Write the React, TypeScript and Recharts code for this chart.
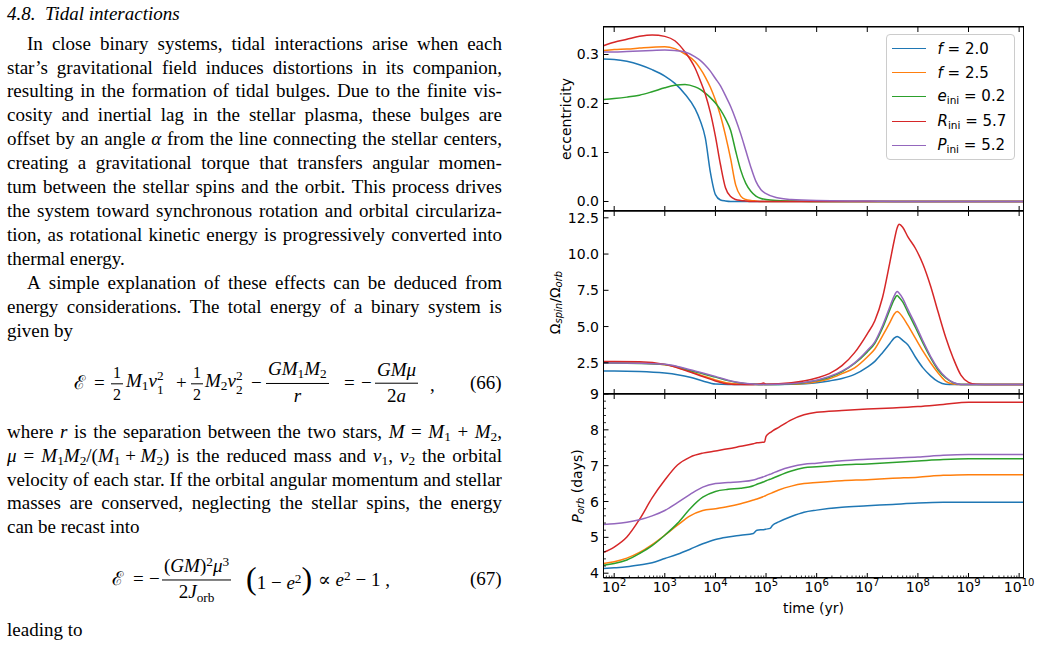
import React from "react";
import { LineChart, Line, XAxis, YAxis, ReferenceArea } from "recharts";

// ---------- values ----------

// top panel: eccentricity
const eccTime = [6.15e1, 1e2, 1.78e2, 3.16e2, 5.62e2, 1e3, 1.58e3, 2.51e3, 3.98e3, 5.01e3, 6.31e3, 7.94e3, 1e4, 1.26e4, 1.58e4, 2.0e4, 2.51e4, 3.16e4, 3.98e4, 5.01e4, 6.31e4, 7.94e4, 1e5, 1.58e5, 3.16e5, 1e6, 1e7, 1e8, 1e9, 1.22e10];
const eccF20 = [0.291, 0.29, 0.286, 0.279, 0.269, 0.256, 0.241, 0.219, 0.189, 0.165, 0.13, 0.06, 0.014, 0.003, 0.001, 0, 0, 0, 0, 0, 0, 0, 0, 0, 0, 0, 0, 0, 0, 0];
const eccF25 = [0.308, 0.31, 0.311, 0.313, 0.315, 0.316, 0.312, 0.301, 0.285, 0.271, 0.254, 0.233, 0.207, 0.175, 0.135, 0.087, 0.034, 0.011, 0.004, 0.002, 0.001, 0, 0, 0, 0, 0, 0, 0, 0, 0];
const eccE02 = [0.208, 0.21, 0.213, 0.217, 0.224, 0.232, 0.237, 0.239, 0.234, 0.229, 0.221, 0.212, 0.201, 0.187, 0.169, 0.145, 0.103, 0.064, 0.037, 0.021, 0.011, 0.006, 0.004, 0.002, 0.001, 0, 0, 0, 0, 0];
const eccR57 = [0.318, 0.325, 0.331, 0.337, 0.34, 0.337, 0.328, 0.305, 0.272, 0.247, 0.219, 0.182, 0.133, 0.075, 0.028, 0.01, 0.004, 0.002, 0.001, 0, 0, 0, 0, 0, 0, 0, 0, 0, 0, 0];
const eccP52 = [0.305, 0.305, 0.306, 0.307, 0.308, 0.309, 0.308, 0.305, 0.295, 0.288, 0.278, 0.266, 0.251, 0.236, 0.216, 0.194, 0.168, 0.138, 0.104, 0.07, 0.041, 0.024, 0.016, 0.008, 0.004, 0.002, 0.001, 0, 0, 0];

// middle panel: Omega_spin / Omega_orb
const spinTime = [6.15e1, 1e2, 3.16e2, 1e3, 1.78e3, 3.16e3, 5.62e3, 1e4, 1.78e4, 3.16e4, 5.62e4, 7.94e4, 8.91e4, 1e5, 3.16e5, 1e6, 1.78e6, 3.16e6, 5.62e6, 1e7, 1.41e7, 2.0e7, 2.82e7, 3.39e7, 3.89e7, 4.27e7, 5.01e7, 6.31e7, 8.91e7, 1.26e8, 1.78e8, 2.51e8, 3.55e8, 5.01e8, 7.08e8, 1e9, 1.41e9, 3.16e9, 1.22e10];
const spinF20 = [1.93, 1.93, 1.9, 1.79, 1.68, 1.51, 1.25, 1.03, 1.0, 1.0, 1.0, 1.0, 1.02, 1.0, 1.02, 1.12, 1.25, 1.42, 1.7, 2.2, 2.6, 3.2, 3.85, 4.2, 4.32, 4.25, 4.05, 3.75, 2.9, 2.15, 1.6, 1.2, 1.02, 1.0, 1.0, 1.0, 1.0, 1.0, 1.0];
const spinF25 = [2.5, 2.5, 2.49, 2.36, 2.18, 1.9, 1.6, 1.32, 1.1, 1.02, 1.0, 1.0, 1.0, 1.0, 1.03, 1.2, 1.4, 1.75, 2.15, 2.9, 3.45, 4.35, 5.3, 5.85, 6.04, 5.95, 5.65, 5.1, 4.2, 3.3, 2.5, 1.8, 1.22, 1.04, 1.0, 1.0, 1.0, 1.0, 1.0];
const spinE02 = [2.48, 2.48, 2.46, 2.39, 2.22, 1.97, 1.75, 1.51, 1.27, 1.1, 1.03, 1.0, 1.0, 1.0, 1.04, 1.28, 1.5, 1.88, 2.45, 3.25, 3.85, 4.9, 6.2, 6.85, 7.14, 7.0, 6.7, 6.0, 4.95, 3.85, 2.85, 2.0, 1.45, 1.12, 1.0, 1.0, 1.0, 1.0, 1.0];
const spinR57 = [2.59, 2.59, 2.58, 2.39, 2.15, 1.86, 1.55, 1.25, 1.04, 1.0, 1.0, 1.05, 1.1, 1.02, 1.12, 1.45, 1.75, 2.3, 3.2, 4.5, 5.4, 7.0, 9.5, 10.9, 11.8, 12.05, 11.85, 11.2, 10.4, 9.3, 7.8, 6.0, 4.25, 2.8, 1.65, 1.15, 1.02, 1.0, 1.0];
const spinP52 = [2.48, 2.48, 2.47, 2.4, 2.25, 2.02, 1.8, 1.56, 1.3, 1.12, 1.03, 1.0, 1.0, 1.0, 1.05, 1.3, 1.55, 1.92, 2.5, 3.35, 3.95, 5.05, 6.4, 7.1, 7.42, 7.3, 6.95, 6.2, 5.15, 4.0, 2.95, 2.1, 1.5, 1.14, 1.01, 1.0, 1.0, 1.0, 1.0];

// bottom panel: P_orb (days)
const porbTime = [6.15e1, 1e2, 1.78e2, 3.16e2, 5.62e2, 1e3, 1.78e3, 3.16e3, 5.62e3, 1e4, 1.78e4, 3.16e4, 5.62e4, 6.61e4, 9.33e4, 1e5, 1.2e5, 1.35e5, 1.78e5, 3.16e5, 5.62e5, 1e6, 3.16e6, 1e7, 3.16e7, 1e8, 3.16e8, 1e9, 3.16e9, 1.22e10];
const porbF20 = [4.13, 4.15, 4.18, 4.23, 4.29, 4.41, 4.53, 4.67, 4.82, 4.94, 5.01, 5.06, 5.11, 5.2, 5.22, 5.23, 5.25, 5.34, 5.43, 5.58, 5.7, 5.76, 5.84, 5.88, 5.92, 5.96, 5.98, 5.98, 5.98, 5.98];
const porbF25 = [4.27, 4.32, 4.42, 4.58, 4.8, 5.06, 5.34, 5.6, 5.75, 5.8, 5.86, 5.94, 6.04, 6.07, 6.15, 6.17, 6.22, 6.25, 6.32, 6.43, 6.5, 6.53, 6.58, 6.61, 6.65, 6.68, 6.73, 6.75, 6.75, 6.75];
const porbE02 = [4.22, 4.27, 4.37, 4.55, 4.77, 5.06, 5.39, 5.8, 6.12, 6.28, 6.34, 6.37, 6.44, 6.48, 6.56, 6.58, 6.62, 6.65, 6.72, 6.85, 6.94, 6.97, 7.02, 7.05, 7.09, 7.13, 7.17, 7.19, 7.19, 7.19];
const porbR57 = [4.58, 4.73, 5.01, 5.5, 6.1, 6.6, 7.02, 7.24, 7.35, 7.41, 7.47, 7.54, 7.61, 7.64, 7.66, 7.82, 7.92, 7.97, 8.07, 8.28, 8.42, 8.49, 8.54, 8.58, 8.61, 8.65, 8.71, 8.77, 8.77, 8.77];
const porbP52 = [5.36, 5.38, 5.42, 5.49, 5.6, 5.75, 5.97, 6.2, 6.4, 6.5, 6.53, 6.55, 6.6, 6.63, 6.7, 6.72, 6.76, 6.79, 6.86, 6.97, 7.04, 7.07, 7.14, 7.18, 7.21, 7.24, 7.29, 7.31, 7.31, 7.31];

const SERIES = [
  { key: "f20", color: "#1f77b4" },
  { key: "f25", color: "#ff7f0e" },
  { key: "e02", color: "#2ca02c" },
  { key: "r57", color: "#d62728" },
  { key: "p52", color: "#9467bd" },
];

const X_DOMAIN: [number, number] = [61.5, 1.22e10];
const X_MAJOR = [1e2, 1e3, 1e4, 1e5, 1e6, 1e7, 1e8, 1e9, 1e10];
const X_MINOR: number[] = [];
for (let e = 1; e <= 9; e++) {
  for (let m = 2; m <= 9; m++) {
    const v = m * 10 ** e;
    if (v > X_DOMAIN[0] && v < X_DOMAIN[1]) X_MINOR.push(v);
  }
}
const X_ALL = [...X_MAJOR, ...X_MINOR].sort((a, b) => a - b);

const ECC_TICKS = [0, 0.1, 0.2, 0.3];
const SPIN_TICKS = [2.5, 5, 7.5, 10, 12.5];
const PORB_TICKS: number[] = [];
for (let i = 0; i <= 25; i++) PORB_TICKS.push(Math.round((4 + i * 0.2) * 10) / 10);

const ECC_DOMAIN: [number, number] = [-0.0194, 0.3561];
const SPIN_DOMAIN: [number, number] = [0.348, 12.969];
const PORB_DOMAIN: [number, number] = [3.866, 9.0];

const makeRows = (time: number[], a: number[], b: number[], c: number[], d: number[], e: number[]) =>
  time.map((t, i) => ({ t, f20: a[i], f25: b[i], e02: c[i], r57: d[i], p52: e[i] }));

const eccRows = makeRows(eccTime, eccF20, eccF25, eccE02, eccR57, eccP52);
const spinRows = makeRows(spinTime, spinF20, spinF25, spinE02, spinR57, spinP52);
const porbRows = makeRows(porbTime, porbF20, porbF25, porbE02, porbR57, porbP52);

// ---------- chart pieces ----------

const CHART_LEFT = 540;
const CHART_W = 499;
const Y_AXIS_W = 63.5;
const MARGIN_RIGHT = 15.5;
const PAD_TOP = 10;
const TICK_FONT = 14;
const PLOT_W = CHART_W - Y_AXIS_W - MARGIN_RIGHT;

const isDecade = (v: number) => Math.abs(Math.log10(v) - Math.round(Math.log10(v))) < 1e-9;

// bottom ticks point up into the plot; decades are mirrored on the top edge
const makeBottomTick = (plotH: number, labeled: boolean) => (p: any) => {
  const v = p.payload.value;
  const major = isDecade(v);
  return (
    <g>
      <line x1={p.x} x2={p.x} y1={p.y} y2={p.y - (major ? 5 : 2.5)} stroke="#000" strokeWidth={major ? 1 : 0.8} />
      {major && <line x1={p.x} x2={p.x} y1={p.y - plotH} y2={p.y - plotH + 5} stroke="#000" strokeWidth={1} />}
      {labeled && major && (
        <text x={p.x} y={p.y + 13.5} textAnchor="middle" fontSize={TICK_FONT} fill="#000">
          10<tspan dy={-6} fontSize={10}>{Math.round(Math.log10(v))}</tspan>
        </text>
      )}
    </g>
  );
};

const makeLeftTick = (isMajor: (v: number) => boolean, fmt: (v: number) => string) => (p: any) => {
  const v = p.payload.value;
  const major = isMajor(v);
  return (
    <g>
      <line x1={p.x} x2={p.x + (major ? 5 : 2.5)} y1={p.y} y2={p.y} stroke="#000" strokeWidth={major ? 1 : 0.8} />
      {major && (
        <text x={p.x - 4.5} y={p.y} textAnchor="end" dominantBaseline="central" fontSize={TICK_FONT} fill="#000">
          {fmt(v)}
        </text>
      )}
    </g>
  );
};

const rotLabel = (cx: number, cy: number, content: React.ReactNode) => () => (
  <text x={cx} y={cy} transform={`rotate(-90 ${cx} ${cy})`} textAnchor="middle" dominantBaseline="central" fontSize={14} fill="#000">
    {content}
  </text>
);

type PanelCfg = {
  id: string;
  rows: any[];
  plotTop: number;
  plotH: number;
  xAxisH: number;
  padBottom: number;
  yDomain: [number, number];
  yTicks: number[];
  leftTick: (p: any) => React.ReactElement;
  bottomTick: (p: any) => React.ReactElement;
  yLabel: () => React.ReactElement;
  xLabel?: () => React.ReactElement;
  xTicks: number[];
};

const PANELS: PanelCfg[] = [
  {
    id: "ecc",
    rows: eccRows,
    plotTop: 26.5,
    plotH: 184,
    xAxisH: 2,
    padBottom: 3,
    yDomain: ECC_DOMAIN,
    yTicks: ECC_TICKS,
    leftTick: makeLeftTick(() => true, (v) => v.toFixed(1)),
    bottomTick: makeBottomTick(184, false),
    yLabel: rotLabel(26, PAD_TOP + 92, "eccentricity"),
    xTicks: X_MAJOR,
  },
  {
    id: "spin",
    rows: spinRows,
    plotTop: 210.5,
    plotH: 183,
    xAxisH: 2,
    padBottom: 3,
    yDomain: SPIN_DOMAIN,
    yTicks: SPIN_TICKS,
    leftTick: makeLeftTick(() => true, (v) => v.toFixed(1)),
    bottomTick: makeBottomTick(183, false),
    yLabel: rotLabel(
      15,
      PAD_TOP + 91.5,
      <>
        Ω<tspan fontSize={10} fontStyle="italic" dy={3}>spin</tspan>
        <tspan dy={-3}>/Ω</tspan>
        <tspan fontSize={10} fontStyle="italic" dy={3}>orb</tspan>
      </>
    ),
    xTicks: X_MAJOR,
  },
  {
    id: "porb",
    rows: porbRows,
    plotTop: 393.5,
    plotH: 184,
    xAxisH: 44,
    padBottom: 2,
    yDomain: PORB_DOMAIN,
    yTicks: PORB_TICKS,
    leftTick: makeLeftTick((v) => Math.abs(v - Math.round(v)) < 1e-6, (v) => String(Math.round(v))),
    bottomTick: makeBottomTick(184, true),
    yLabel: rotLabel(
      37,
      PAD_TOP + 92,
      <>
        <tspan fontStyle="italic">P</tspan>
        <tspan fontSize={10} fontStyle="italic" dy={3}>orb</tspan>
        <tspan dy={-3}> (days)</tspan>
      </>
    ),
    xLabel: () => (
      <text x={Y_AXIS_W + PLOT_W / 2} y={PAD_TOP + 184 + 29.7} textAnchor="middle" dominantBaseline="central" fontSize={14} fill="#000">
        time (yr)
      </text>
    ),
    xTicks: X_ALL,
  },
];

const subStyle: React.CSSProperties = { fontSize: "0.7em", verticalAlign: "-0.3em" };
const legendText: Record<string, React.ReactNode> = {
  f20: <><i>f</i> = 2.0</>,
  f25: <><i>f</i> = 2.5</>,
  e02: <><i>e</i><span style={subStyle}>ini</span> = 0.2</>,
  r57: <><i>R</i><span style={subStyle}>ini</span> = 5.7</>,
  p52: <><i>P</i><span style={subStyle}>ini</span> = 5.2</>,
};

const SeriesLegend = ({ left, top }: { left: number; top: number }) => (
  <div
    style={{
      position: "absolute",
      left,
      top,
      width: 129,
      height: 126,
      boxSizing: "border-box",
      border: "1px solid #cccccc",
      borderRadius: 4,
      background: "rgba(255,255,255,0.85)",
      paddingTop: 1.5,
      fontFamily: "'DejaVu Sans', sans-serif",
      fontSize: 15,
      color: "#000",
      zIndex: 2,
    }}
  >
    {SERIES.map((s) => (
      <div key={s.key} style={{ display: "flex", alignItems: "center", height: 24.2, whiteSpace: "nowrap" }}>
        <div style={{ width: 34, height: 0, borderTop: `1.5px solid ${s.color}`, marginLeft: 5, marginRight: 12 }} />
        <span>{legendText[s.key]}</span>
      </div>
    ))}
  </div>
);

function Panel({ cfg }: { cfg: PanelCfg }) {
  const height = PAD_TOP + cfg.plotH + cfg.xAxisH + cfg.padBottom;
  return (
    <div style={{ position: "absolute", left: CHART_LEFT, top: cfg.plotTop - PAD_TOP, width: CHART_W, height }}>
      <LineChart
        width={CHART_W}
        height={height}
        data={cfg.rows}
        margin={{ top: PAD_TOP, right: MARGIN_RIGHT, bottom: cfg.padBottom, left: 0 }}
      >
        <XAxis
          dataKey="t"
          type="number"
          scale="log"
          domain={X_DOMAIN}
          allowDataOverflow
          ticks={cfg.xTicks}
          interval={0}
          tickLine={false}
          tickSize={0}
          tickMargin={0}
          height={cfg.xAxisH}
          axisLine={false}
          tick={cfg.bottomTick}
          label={cfg.xLabel}
        />
        <YAxis
          type="number"
          domain={cfg.yDomain}
          allowDataOverflow
          ticks={cfg.yTicks}
          interval={0}
          width={Y_AXIS_W}
          tickLine={false}
          tickSize={0}
          tickMargin={0}
          axisLine={false}
          tick={cfg.leftTick}
          label={cfg.yLabel}
        />
        <ReferenceArea
          x1={X_DOMAIN[0]}
          x2={X_DOMAIN[1]}
          y1={cfg.yDomain[0]}
          y2={cfg.yDomain[1]}
          ifOverflow="visible"
          fill="none"
          fillOpacity={0}
          stroke="#000"
          strokeWidth={1}
        />
        {SERIES.map((s) => (
          <Line
            key={s.key}
            dataKey={s.key}
            stroke={s.color}
            strokeWidth={1.5}
            dot={false}
            activeDot={false}
            type="monotone"
            isAnimationActive={false}
          />
        ))}
      </LineChart>
    </div>
  );
}

// spines of each panel, laid over all charts
const Spines = () => (
  <>
    {PANELS.map((cfg) => (
      <div
        key={cfg.id}
        style={{
          position: "absolute",
          left: CHART_LEFT + Y_AXIS_W - 0.5,
          top: cfg.plotTop - 0.5,
          width: PLOT_W + 1,
          height: cfg.plotH + 1,
          boxSizing: "border-box",
          borderStyle: "solid",
          borderColor: "#000",
          borderWidth: 1,
          pointerEvents: "none",
          zIndex: 5,
        }}
      />
    ))}
  </>
);

// ---------- page text ----------

const SERIF = "'Liberation Serif', 'Times New Roman', 'DejaVu Serif', serif";
const TEXT_LEFT = 7;
const TEXT_W = 495;

const Sb = ({ children }: { children: React.ReactNode }) => (
  <span style={{ fontSize: "0.7em", verticalAlign: "-0.25em" }}>{children}</span>
);
const Sp = ({ children }: { children: React.ReactNode }) => (
  <span style={{ fontSize: "0.7em", verticalAlign: "0.45em" }}>{children}</span>
);
const SupSub = ({ sup, sub }: { sup: React.ReactNode; sub: React.ReactNode }) => (
  <span style={{ display: "inline-flex", flexDirection: "column", fontSize: "0.7em", lineHeight: 1.05, verticalAlign: "0.5em" }}>
    <span>{sup}</span>
    <span>{sub}</span>
  </span>
);

const JLine = ({ y, indent = 0, words }: { y: number; indent?: number; words: React.ReactNode[] }) => (
  <div
    style={{
      position: "absolute",
      left: TEXT_LEFT + indent,
      width: TEXT_W - indent,
      top: y - 12,
      height: 24,
      display: "flex",
      justifyContent: "space-between",
      alignItems: "baseline",
      whiteSpace: "nowrap",
      lineHeight: "24px",
    }}
  >
    {words.map((w, i) => (
      <span key={i}>{w}</span>
    ))}
  </div>
);

const LLine = ({ y, indent = 0, children }: { y: number; indent?: number; children: React.ReactNode }) => (
  <div style={{ position: "absolute", left: TEXT_LEFT + indent, top: y - 12, height: 24, lineHeight: "24px", whiteSpace: "nowrap" }}>
    {children}
  </div>
);

const At = ({ x, y, children, size }: { x: number; y: number; children: React.ReactNode; size?: number }) => (
  <div style={{ position: "absolute", left: x, top: y, transform: "translateY(-50%)", whiteSpace: "nowrap", fontSize: size, lineHeight: 1.15 }}>
    {children}
  </div>
);

const Frac = ({ n, d, size }: { n: React.ReactNode; d: React.ReactNode; size?: number }) => (
  <span style={{ display: "inline-flex", flexDirection: "column", alignItems: "center", fontSize: size, lineHeight: 1.2 }}>
    <span style={{ padding: "0 2px 1px", borderBottom: "1px solid #000" }}>{n}</span>
    <span style={{ padding: "1px 2px 0" }}>{d}</span>
  </span>
);

const w = (s: string) => s.split(" ");

const PARA_Y = [43.5, 67.5, 91.4, 115.4, 139.3, 163.3, 187.2, 211.2, 235.1, 259.1, 283.0, 307.0, 331.0];

function PageText() {
  return (
    <div style={{ position: "absolute", left: 0, top: 0, width: 520, height: 647, fontFamily: SERIF, fontSize: 19, color: "#000" }}>
      <LLine y={14}>
        <i>4.8.&nbsp;&nbsp;Tidal interactions</i>
      </LLine>
      <JLine y={PARA_Y[0]} indent={20} words={w("In close binary systems, tidal interactions arise when each")} />
      <JLine y={PARA_Y[1]} words={w("star’s gravitational field induces distortions in its companion,")} />
      <JLine y={PARA_Y[2]} words={w("resulting in the formation of tidal bulges. Due to the finite vis-")} />
      <JLine y={PARA_Y[3]} words={w("cosity and inertial lag in the stellar plasma, these bulges are")} />
      <JLine y={PARA_Y[4]} words={["offset", "by", "an", "angle", <i>α</i>, "from", "the", "line", "connecting", "the", "stellar", "centers,"]} />
      <JLine y={PARA_Y[5]} words={w("creating a gravitational torque that transfers angular momen-")} />
      <JLine y={PARA_Y[6]} words={w("tum between the stellar spins and the orbit. This process drives")} />
      <JLine y={PARA_Y[7]} words={w("the system toward synchronous rotation and orbital circulariza-")} />
      <JLine y={PARA_Y[8]} words={w("tion, as rotational kinetic energy is progressively converted into")} />
      <LLine y={PARA_Y[9]}>thermal energy.</LLine>
      <JLine y={PARA_Y[10]} indent={20} words={w("A simple explanation of these effects can be deduced from")} />
      <JLine y={PARA_Y[11]} words={w("energy considerations. The total energy of a binary system is")} />
      <LLine y={PARA_Y[12]}>given by</LLine>

      {/* equation (66) */}
      <At x={74} y={383}>ℰ</At>
      <At x={94} y={383}>=</At>
      <At x={111} y={383}><Frac n="1" d="2" size={16} /></At>
      <At x={126} y={383}><i>M</i><Sb>1</Sb><i>v</i><SupSub sup="2" sub="1" /></At>
      <At x={176} y={383}>+</At>
      <At x={191} y={383}><Frac n="1" d="2" size={16} /></At>
      <At x={205} y={383}><i>M</i><Sb>2</Sb><i>v</i><SupSub sup="2" sub="2" /></At>
      <At x={251} y={383}>−</At>
      <At x={266} y={383}><Frac n={<><i>GM</i><Sb>1</Sb><i>M</i><Sb>2</Sb></>} d={<i>r</i>} /></At>
      <At x={344} y={383}>=</At>
      <At x={361} y={383}>−</At>
      <At x={375} y={383}><Frac n={<i>GMμ</i>} d={<>2<i>a</i></>} /></At>
      <At x={430} y={385}>,</At>
      <At x={470} y={383}>(66)</At>

      <JLine y={431.7} words={["where", <i>r</i>, "is", "the", "separation", "between", "the", "two", "stars,", <i>M</i>, "=", <><i>M</i><Sb>1</Sb></>, "+", <><i>M</i><Sb>2</Sb>,</>]} />
      <JLine
        y={455.6}
        words={[
          <i>μ</i>,
          "=",
          <><i>M</i><Sb>1</Sb><i>M</i><Sb>2</Sb>/(<i>M</i><Sb>1</Sb> + <i>M</i><Sb>2</Sb>)</>,
          "is", "the", "reduced", "mass", "and",
          <><i>v</i><Sb>1</Sb>,</>,
          <><i>v</i><Sb>2</Sb></>,
          "the", "orbital",
        ]}
      />
      <JLine y={479.5} words={w("velocity of each star. If the orbital angular momentum and stellar")} />
      <JLine y={503.4} words={w("masses are conserved, neglecting the stellar spins, the energy")} />
      <LLine y={527.3}>can be recast into</LLine>

      {/* equation (67) */}
      <At x={112} y={579}>ℰ</At>
      <At x={133} y={579}>=</At>
      <At x={149} y={579}>−</At>
      <At x={162} y={580}><Frac n={<>(<i>GM</i>)<Sp>2</Sp><i>μ</i><Sp>3</Sp></>} d={<>2<i>J</i><Sb>orb</Sb></>} /></At>
      <At x={246} y={578}><span style={{ fontSize: 32, fontWeight: 300 }}>(</span>1 − <i>e</i><Sp>2</Sp><span style={{ fontSize: 32, fontWeight: 300 }}>)</span></At>
      <At x={318} y={579}>∝ <i>e</i><Sp>2</Sp> − 1 ,</At>
      <At x={470} y={579}>(67)</At>

      <LLine y={630}>leading to</LLine>
    </div>
  );
}

// ---------- app ----------

export default function App() {
  return (
    <div style={{ position: "absolute", left: 0, top: 0, width: 1039, height: 647, background: "#fff", overflow: "hidden" }}>
      <PageText />
      <div style={{ position: "absolute", left: 0, top: 0, width: 1039, height: 647, fontFamily: "'DejaVu Sans', sans-serif" }}>
        {PANELS.map((cfg) => (
          <Panel key={cfg.id} cfg={cfg} />
        ))}
        <SeriesLegend left={885.5} top={34} />
        <Spines />
      </div>
    </div>
  );
}
